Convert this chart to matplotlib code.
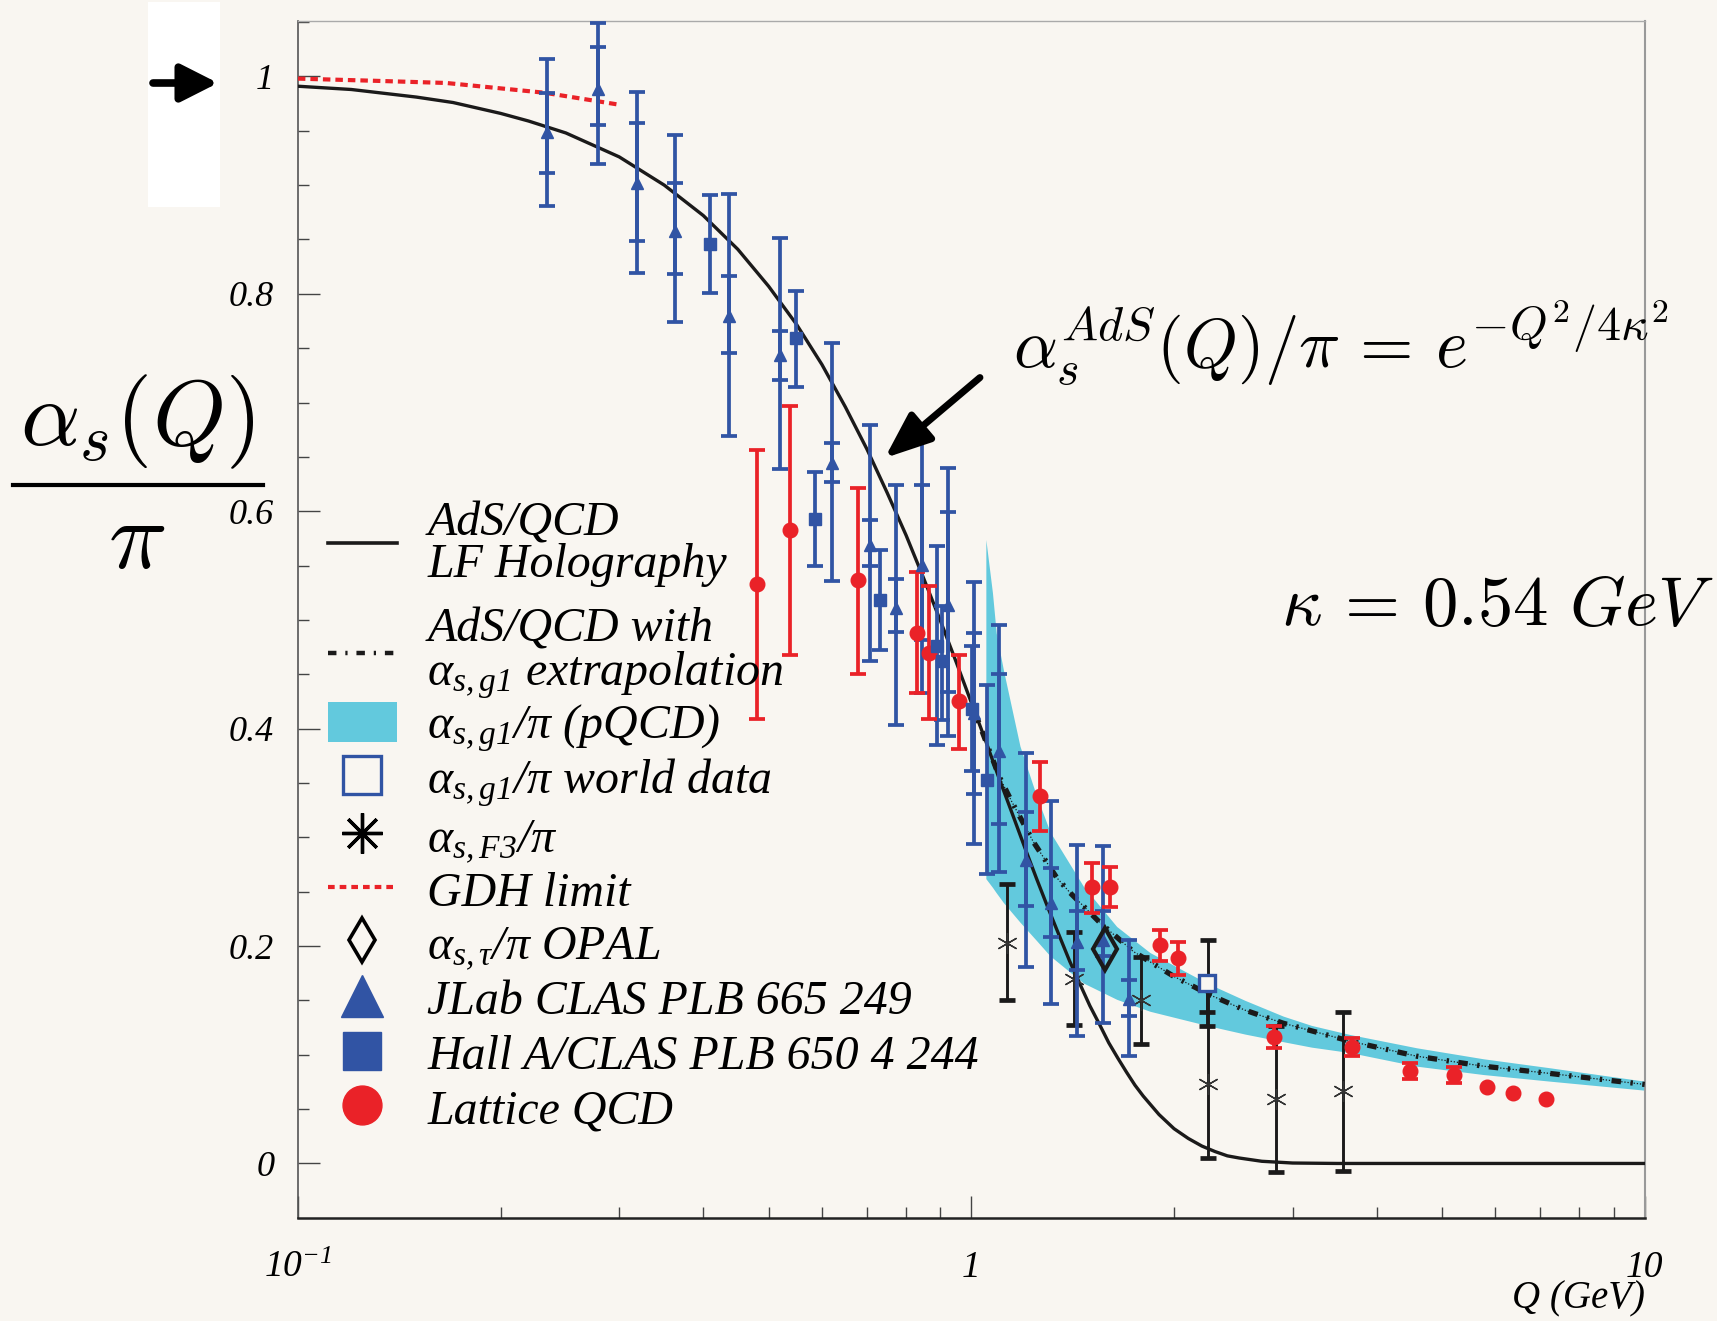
import matplotlib
matplotlib.use('Agg')
import matplotlib.pyplot as plt
from matplotlib.lines import Line2D
from matplotlib.patches import Patch, Rectangle
from matplotlib.legend import Legend
from matplotlib.ticker import MultipleLocator, FixedLocator, NullFormatter
import numpy as np

# ---- data ----
# AdS/QCD LF holography curve
ads_q = [0.10, 0.12, 0.15, 0.17, 0.20, 0.22, 0.25, 0.30, 0.35, 0.40, 0.45, 0.50, 0.55, 0.60,
         0.65, 0.70, 0.75, 0.80, 0.85, 0.90, 0.95, 1.00, 1.05, 1.10, 1.15, 1.20, 1.25, 1.30,
         1.35, 1.40, 1.45, 1.50, 1.55, 1.60, 1.65, 1.70, 1.75, 1.80, 1.90, 2.00, 2.10, 2.20,
         2.30, 2.40, 2.50, 2.70, 3.00, 3.50, 4.00, 10.0]
ads_a = [0.991, 0.988, 0.981, 0.976, 0.966, 0.959, 0.948, 0.926, 0.900, 0.872, 0.841, 0.807,
         0.772, 0.735, 0.696, 0.657, 0.617, 0.578, 0.538, 0.499, 0.461, 0.424, 0.389, 0.354,
         0.322, 0.291, 0.262, 0.235, 0.210, 0.186, 0.165, 0.145, 0.128, 0.111, 0.097, 0.084,
         0.072, 0.062, 0.045, 0.032, 0.023, 0.016, 0.011, 0.007, 0.005, 0.002, 0.0004, 0.0,
         0.0, 0.0]

# AdS/QCD with alpha_s,g1 extrapolation
ext_q = [1.00, 1.05, 1.10, 1.148, 1.236, 1.339, 1.402, 1.55, 1.740, 2.00, 2.262, 2.55, 2.906,
         3.651, 4.585, 5.759, 7.234, 10.0]
ext_a = [0.424, 0.389, 0.356, 0.333, 0.296, 0.263, 0.249, 0.222, 0.195, 0.172, 0.155, 0.141,
         0.129, 0.1125, 0.0987, 0.0895, 0.0828, 0.0727]

# pQCD band
band_q = [1.051, 1.075, 1.089, 1.116, 1.181, 1.250, 1.309, 1.467, 1.644, 1.842, 2.237, 2.55,
          2.906, 3.2, 3.651, 4.585, 5.759, 7.234, 10.0]
band_lo = [0.262, 0.254, 0.249, 0.240, 0.222, 0.205, 0.191, 0.166, 0.151, 0.140, 0.127, 0.119,
           0.112, 0.107, 0.102, 0.0895, 0.0818, 0.0757, 0.0674]
band_hi = [0.574, 0.525, 0.488, 0.454, 0.384, 0.338, 0.305, 0.255, 0.218, 0.194, 0.166, 0.150,
           0.1355, 0.127, 0.1186, 0.1064, 0.0963, 0.088, 0.0757]

# GDH limit
gdh_q = [0.10, 0.13, 0.166, 0.2325, 0.300]
gdh_a = [0.998, 0.996, 0.994, 0.985, 0.974]

# JLab CLAS (triangles): value, stat and total ranges
tri_q = [0.234, 0.279, 0.319, 0.363, 0.436, 0.520, 0.620, 0.708, 0.773, 0.844, 0.923, 1.009,
         1.099, 1.206, 1.314, 1.437, 1.567, 1.717]
tri_a = [0.949, 0.988, 0.902, 0.858, 0.780, 0.744, 0.644, 0.569, 0.511, 0.551, 0.514, 0.414,
         0.379, 0.279, 0.240, 0.204, 0.206, 0.151]
tri_stat_lo = [0.911, 0.955, 0.849, 0.818, 0.746, 0.721, 0.627, 0.550, 0.489, 0.482, 0.434, 0.340,
               0.312, 0.237, 0.208, 0.178, 0.191, 0.136]
tri_stat_hi = [0.985, 1.027, 0.957, 0.902, 0.816, 0.766, 0.663, 0.592, 0.538, 0.624, 0.599, 0.488,
               0.450, 0.323, 0.272, 0.232, 0.232, 0.169]
tri_tot_lo = [0.881, 0.919, 0.819, 0.774, 0.669, 0.639, 0.536, 0.462, 0.403, 0.433, 0.393, 0.294,
              0.268, 0.181, 0.147, 0.117, 0.129, 0.099]
tri_tot_hi = [1.016, 1.049, 0.986, 0.946, 0.892, 0.851, 0.755, 0.679, 0.624, 0.672, 0.640, 0.535,
              0.495, 0.378, 0.333, 0.293, 0.292, 0.206]

# Hall A / CLAS (squares)
sq_q = [0.409, 0.550, 0.586, 0.732, 0.889, 0.905, 1.002, 1.054]
sq_a = [0.846, 0.759, 0.593, 0.518, 0.476, 0.462, 0.418, 0.353]
sq_lo = [0.801, 0.714, 0.550, 0.472, 0.385, 0.408, 0.361, 0.266]
sq_hi = [0.891, 0.803, 0.636, 0.564, 0.568, 0.513, 0.476, 0.440]

# Lattice QCD
lat_q = [0.481, 0.538, 0.678, 0.831, 0.866, 0.960, 1.265, 1.509, 1.607, 1.906, 2.029, 2.818,
         3.680, 4.482, 5.209, 5.837, 6.368, 7.129]
lat_a = [0.533, 0.583, 0.537, 0.488, 0.470, 0.425, 0.338, 0.254, 0.254, 0.201, 0.189, 0.116,
         0.107, 0.085, 0.081, 0.0705, 0.065, 0.059]
lat_lo = [0.409, 0.468, 0.450, 0.433, 0.409, 0.381, 0.306, 0.230, 0.236, 0.186, 0.173, 0.106,
          0.099, 0.078, 0.074, 0.0705, 0.065, 0.059]
lat_hi = [0.656, 0.697, 0.621, 0.544, 0.531, 0.468, 0.369, 0.276, 0.273, 0.215, 0.204, 0.126,
          0.115, 0.092, 0.089, 0.0705, 0.065, 0.059]

# alpha_s,F3
f3_q = [1.128, 1.421, 1.784, 2.249, 2.831, 3.565]
f3_a = [0.203, 0.170, 0.150, 0.073, 0.059, 0.067]
f3_lo = [0.150, 0.127, 0.110, 0.005, -0.008, -0.007]
f3_hi = [0.257, 0.213, 0.190, 0.206, 0.126, 0.139]

# alpha_s,g1 world data
world_q = [2.242]
world_a = [0.166]
world_stat_lo = [0.139]
world_tot_lo = [0.126]

# OPAL
opal_q = [1.579]
opal_a = [0.197]

# ---- style ----
bg = '#f9f6f1'
blue = '#3154a4'
red = '#ea2228'
cyan = '#62c9dd'
black = '#1b1a1a'

plt.rcParams['font.family'] = ['Liberation Serif', 'DejaVu Serif']
plt.rcParams['font.style'] = 'italic'
plt.rcParams['mathtext.fontset'] = 'custom'
plt.rcParams['mathtext.rm'] = 'Liberation Serif'
plt.rcParams['mathtext.it'] = 'Liberation Serif:italic'
plt.rcParams['mathtext.bf'] = 'Liberation Serif:bold'

W, H = 1717, 1321
fig = plt.figure(figsize=(W / 100, H / 100), dpi=100, facecolor=bg)
ax = fig.add_axes([0.1735, 0.0782, 0.7844, 0.9059], facecolor=bg)


def err(a, lo, hi):
    a = np.array(a); lo = np.array(lo); hi = np.array(hi)
    return [a - lo, hi - a]


# band and curves
ax.fill_between(band_q, band_lo, band_hi, color=cyan, lw=0, zorder=1)
ax.plot(ads_q, ads_a, color=black, lw=2.4, zorder=3)
ax.plot(ext_q, ext_a, color=black, lw=0.9, ls=(0, (1, 1.5)), zorder=3)
ax.plot(ext_q, ext_a, color=black, lw=3.8, ls=(0, (1.8, 1.8, 0.45, 1.8)), zorder=3)
ax.plot(gdh_q, gdh_a, color=red, lw=3.0, ls=(0, (1.8, 1.2)), zorder=3)

ekw = dict(elinewidth=2.7, capsize=5.5, capthick=2.7)

# F3 (black)
ax.errorbar(f3_q, f3_a, yerr=err(f3_a, f3_lo, f3_hi), fmt='none', ecolor=black,
            elinewidth=2.1, capsize=5.5, capthick=3.4, zorder=4)
ax.plot(f3_q, f3_a, ls='none', marker=(6, 2, 0), ms=15, mew=1.0, color='#333333', zorder=4)

# world data
ax.errorbar(world_q, world_a, yerr=err(world_a, world_stat_lo, world_a), fmt='none', ecolor=black,
            elinewidth=2.1, capsize=5.5, capthick=3.4, zorder=4)
ax.errorbar(world_q, world_a, yerr=err(world_a, world_tot_lo, world_a), fmt='none', ecolor=black,
            elinewidth=2.1, capsize=5.5, capthick=3.4, zorder=4)
ax.plot(world_q, world_a, ls='none', marker='s', ms=11, mfc=bg, mec=blue, mew=2.4, zorder=6)

# JLab CLAS triangles
ax.errorbar(tri_q, tri_a, yerr=err(tri_a, tri_tot_lo, tri_tot_hi), fmt='^', ms=8,
            color=blue, ecolor=blue, zorder=5, **ekw)
ax.errorbar(tri_q, tri_a, yerr=err(tri_a, tri_stat_lo, tri_stat_hi), fmt='none',
            ecolor=blue, zorder=5, **ekw)

# Hall A / CLAS squares
ax.errorbar(sq_q, sq_a, yerr=err(sq_a, sq_lo, sq_hi), fmt='s', ms=9,
            color=blue, ecolor=blue, zorder=5, **ekw)

# Lattice
has_err = np.array(lat_hi) > np.array(lat_lo)
lq = np.array(lat_q)[has_err]
la = np.array(lat_a)[has_err]
ax.errorbar(lq, la, yerr=err(la, np.array(lat_lo)[has_err], np.array(lat_hi)[has_err]),
            fmt='none', ecolor=red, zorder=5, **ekw)
ax.plot(lat_q, lat_a, ls='none', marker='o', ms=10.5, color=red, zorder=5)

# OPAL
ax.plot(opal_q, opal_a, ls='none', marker='d', ms=21, mfc='none', mec=black, mew=3.0, zorder=6)

# ---- axes ----
ax.set_xscale('log')
ax.set_xlim(0.1, 10)
ax.set_ylim(-0.0499, 1.051)
ax.yaxis.set_major_locator(FixedLocator([0, 0.2, 0.4, 0.6, 0.8, 1.0]))
ax.yaxis.set_minor_locator(MultipleLocator(0.05))
ax.set_yticklabels(['0', '0.2', '0.4', '0.6', '0.8', '1'])
ax.xaxis.set_major_locator(FixedLocator([0.1, 1, 10]))
ax.xaxis.set_minor_locator(FixedLocator([0.2, 0.3, 0.4, 0.5, 0.6, 0.7, 0.8, 0.9,
                                         2, 3, 4, 5, 6, 7, 8, 9]))
ax.xaxis.set_major_formatter(NullFormatter())
ax.xaxis.set_minor_formatter(NullFormatter())
ax.tick_params(axis='both', which='both', direction='in', top=False, right=False,
               color='#444444', width=1.0)
ax.tick_params(axis='both', which='major', length=16)
ax.tick_params(axis='both', which='minor', length=8)
ax.tick_params(axis='y', which='major', pad=17, labelsize=26)

ax.spines['left'].set_color('#555555')
ax.spines['left'].set_linewidth(1.2)
ax.spines['bottom'].set_color('#222222')
ax.spines['bottom'].set_linewidth(1.8)
ax.spines['top'].set_color('#aaaaaa')
ax.spines['top'].set_linewidth(1.0)
ax.spines['right'].set_color('#999999')
ax.spines['right'].set_linewidth(1.5)

xt = ax.get_xaxis_transform()
for xv, lab in zip([0.1, 1, 10], [r'$\mathit{10}^{\mathit{-1}}$', '1', '10']):
    ax.text(xv, -0.0496, lab, transform=xt, ha='center', va='baseline', fontsize=27)
ax.text(1.0, -0.0755, 'Q (GeV)', transform=ax.transAxes, ha='right', va='baseline', fontsize=28)

# ---- legend, one entry per box ----
h_solid = Line2D([], [], color=black, lw=2.6)
h_ext = Line2D([], [], color=black, lw=3.2, ls=(0, (1.9, 2.0, 0.5, 2.0)))
h_band = Patch(facecolor=cyan, edgecolor='none')
h_world = Line2D([], [], ls='none', marker='s', ms=28, mfc='none', mec=blue, mew=2.4)
h_f3 = Line2D([], [], ls='none', marker=(8, 2, 0), ms=29, color='k', mew=2.4)
h_gdh = Line2D([], [], color=red, lw=3.0, ls=(0, (1.6, 1.2)))
h_opal = Line2D([], [], ls='none', marker='d', ms=22, mfc='none', mec='k', mew=2.6)
h_tri = Line2D([], [], ls='none', marker='^', ms=30, color=blue)
h_sq = Line2D([], [], ls='none', marker='s', ms=28, color=blue)
h_lat = Line2D([], [], ls='none', marker='o', ms=28, color=red)

handles = [h_solid, h_ext, h_band, h_world, h_f3, h_gdh, h_opal, h_tri, h_sq, h_lat]
labels = ['AdS/QCD\nLF Holography',
          'AdS/QCD with\n' + r'$\mathrm{\alpha}_{s,g1}$ extrapolation',
          r'$\mathrm{\alpha}_{s,g1}/\mathrm{\pi}$ (pQCD)',
          r'$\mathrm{\alpha}_{s,g1}/\mathrm{\pi}$ world data',
          r'$\mathrm{\alpha}_{s,F3}/\mathrm{\pi}$',
          'GDH limit',
          r'$\mathrm{\alpha}_{s,\mathrm{\tau}}/\mathrm{\pi}$ OPAL',
          'JLab CLAS PLB 665 249',
          'Hall A/CLAS PLB 650 4 244',
          'Lattice QCD']
legend_y = [0.5628, 0.4706, 0.4090, 0.3633, 0.3157, 0.2718, 0.2261, 0.1812, 0.1355, 0.0897]

for h, lab, yy in zip(handles, labels, legend_y):
    leg = Legend(ax, [h], [lab], loc='center left', bbox_to_anchor=(0.0227, yy),
                 frameon=False, fontsize=34.5, handlelength=1.42, handletextpad=0.64,
                 borderpad=0, borderaxespad=0, handleheight=0.9, numpoints=1)
    for t in leg.get_texts():
        t.set_linespacing(0.95)
    ax.add_artist(leg)

# ---- annotations ----
ax.annotate('', xy=(0.744, 0.649), xytext=(1.030, 0.723), xycoords='data',
            arrowprops=dict(arrowstyle='-|>,head_length=0.8,head_width=0.32', lw=5,
                            color='k', mutation_scale=35, shrinkA=0, shrinkB=0), zorder=7)

fig.text(1013 / W, 1 - 368 / H, r'$\alpha_s^{AdS}(Q)/\pi\,=\,e^{-Q^2/4\kappa^2}$',
         math_fontfamily='cm', fontsize=49.5, ha='left', va='baseline')
fig.text(1281 / W, 1 - 625 / H, r'$\kappa\,=\,0.54\ GeV$',
         math_fontfamily='cm', fontsize=51, ha='left', va='baseline')

# y label as a big fraction
fig.text(137 / W, 1 - 445 / H, r'$\alpha_s(Q)$', math_fontfamily='cm', fontsize=67,
         ha='center', va='baseline')
fig.add_artist(Line2D([13 / W, 263 / W], [1 - 485 / H, 1 - 485 / H], color='k', lw=3,
                      transform=fig.transFigure))
fig.text(137 / W, 1 - 568 / H, r'$\pi$', math_fontfamily='cm', fontsize=70,
         ha='center', va='baseline')

# white box with arrow at 1
fig.add_artist(Rectangle((148 / W, 1 - 207 / H), 72 / W, 205 / H, transform=fig.transFigure,
                         facecolor='white', edgecolor='none', zorder=-1))
ax.annotate('', xy=(218 / W, 1 - 83 / H), xytext=(153 / W, 1 - 83 / H), xycoords='figure fraction',
            arrowprops=dict(arrowstyle='-|>,head_length=0.75,head_width=0.38', lw=5.5,
                            color='k', mutation_scale=30, shrinkA=0, shrinkB=0))

fig.savefig('out.png', dpi=100, facecolor=bg)
